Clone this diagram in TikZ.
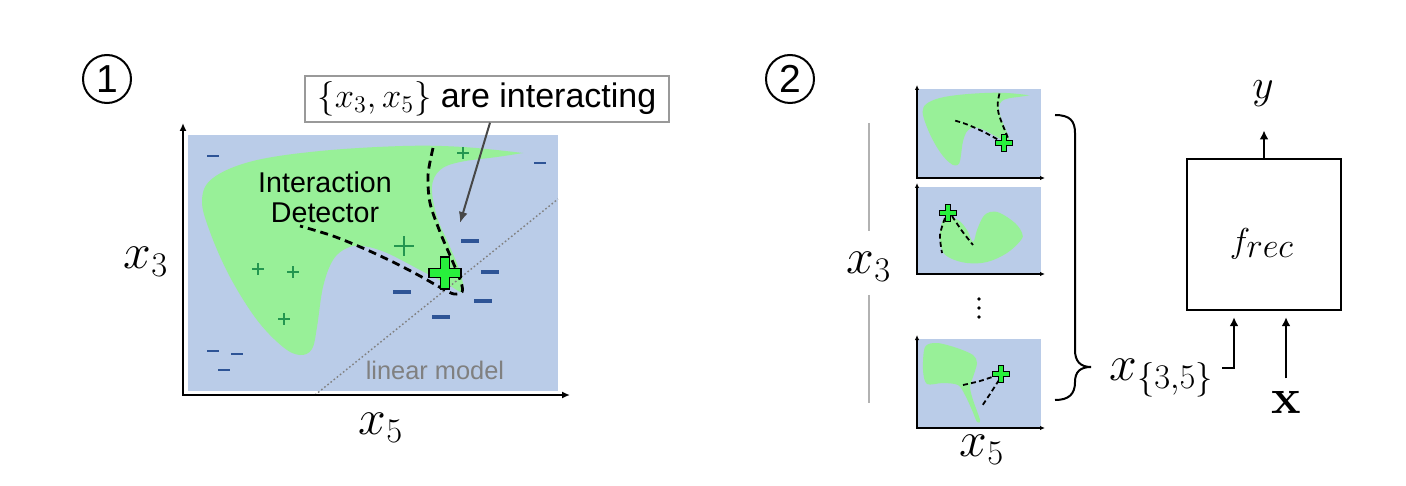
\documentclass[tikz,border=0pt]{standalone}
\usepackage[no-math]{fontspec}
\setmainfont{Liberation Sans}
\usetikzlibrary{arrows.meta, positioning}

\definecolor{bgblue}{RGB}{186,204,232}
\definecolor{blobgreen}{RGB}{152,240,152}
\definecolor{crossgreen}{RGB}{40,240,60}
\definecolor{plusgreen}{RGB}{36,150,80}
\definecolor{minusblue}{RGB}{46,84,150}

% shape of the positive region and the detected cut, in pixel coordinates
\newcommand{\mainblob}{plot[smooth, tension=0.6] coordinates {(523,153) (463,147) (403,146) (320,151) (253,161) (213,178) (202,200) (210,232) (230,277) (257,320) (283,347) (300,355) (312,349) (317,327) (323,287) (333,260) (347,248) (363,246) (387,253) (420,270) (447,284) (463,292) (460,272) (450,247) (437,217) (432,187) (440,170) (460,162) (497,157) (523,153)}}
\newcommand{\maincut}{plot[smooth] coordinates {(433,148) (428,175) (430,203) (440,232) (452,260) (461,282) (462,292) (454,294) (443,289) (420,276) (395,263) (365,249) (333,236) (300,226)}}
\newcommand{\greencross}[4]{%
  \filldraw[cross, shift={(#1,#2)}] (-#3,-#4) -- (-#4,-#4) -- (-#4,-#3) -- (#4,-#3) -- (#4,-#4) -- (#3,-#4) -- (#3,#4) -- (#4,#4) -- (#4,#3) -- (-#4,#3) -- (-#4,#4) -- (-#3,#4) -- cycle;}

\begin{document}
\begin{tikzpicture}[x=0.5pt, y=-0.5pt,
    axis/.style = {line width=1pt, line join=miter, {Latex[length=4pt, width=3.5pt]}-{Latex[length=4pt, width=3.5pt]}},
    miniaxis/.style = {line width=0.6pt, line join=miter, {Latex[length=2.5pt, width=2.2pt]}-{Latex[length=2.5pt, width=2.2pt]}},
    blob/.style = {fill=blobgreen},
    cut/.style = {line width=1.4pt, dash pattern=on 4pt off 2.5pt},
    minicut/.style = {line width=0.9pt, dash pattern=on 2.5pt off 1.6pt},
    cross/.style = {fill=crossgreen, draw=black, line width=0.8pt, line join=miter},
    smallplus/.style = {plusgreen, line width=0.6pt},
    midplus/.style = {plusgreen, line width=1.3pt},
    smallminus/.style = {minusblue, line width=0.6pt},
    bigminus/.style = {minusblue, line width=1.6pt},
    pointer/.style = {black!72, line width=1pt, -{Latex[length=5.5pt, width=4.5pt]}},
    flow/.style = {line width=1pt, -{Latex[length=4.5pt, width=4.5pt]}},
    mathlabel/.style = {font=\fontsize{24}{28}\selectfont, inner sep=1pt},
    rangeline/.style = {black!30, line width=1pt},
    stepnum/.style = {circle, draw, line width=1pt, minimum size=24pt, inner sep=0pt, font=\fontsize{19.5}{22}\selectfont}
  ]
  \useasboundingbox (0,0) rectangle (1406,486);

  % step 1: one detector on the full data
  \node[stepnum] (step1) at (107,79) {1};
  \fill[bgblue] (188,135) rectangle (558,391);
  \fill[blob] \mainblob;
  \draw[black!50, line width=0.7pt, dash pattern=on 0.8pt off 1.2pt] (315,395) -- (558,199);
  \draw[cut] \maincut;
  \foreach \x/\y in {463/153, 258/269, 293/272, 284/319}
    \draw[smallplus, shift={(\x,\y)}] (-6,0) -- (6,0) (0,-6) -- (0,6);
  \draw[midplus, shift={(404,246)}] (-10,0) -- (10,0) (0,-10) -- (0,10);
  \foreach \x/\y in {213/156, 540/163, 213/351, 237/354, 224/370}
    \draw[smallminus] (\x-6,\y) -- (\x+6,\y);
  \foreach \x/\y in {470/241, 490/272, 483/301, 402/292, 441/317}
    \draw[bigminus] (\x-9,\y) -- (\x+9,\y);
  \greencross{445}{273}{16}{4.5}
  \draw[axis] (183,123) -- (183,395) -- (570,395);

  \node[font=\fontsize{14.3}{15}\selectfont, align=center] (detector) at (325,197) {Interaction\\Detector};
  \node[font=\fontsize{12.7}{14}\selectfont, text=black!50] (linmodel) at (435,370) {linear model};
  \node[draw=black!40, line width=0.7pt, minimum width=182pt, minimum height=23pt, inner sep=2pt,
        font=\fontsize{17}{19}\selectfont] (claim) at (487,99) {$\{x_3, x_5\}$ are interacting};
  \coordinate (aim) at (460,223);
  \draw[pointer] ([xshift=1.5pt]claim.south) -- (aim);
  \node[mathlabel] (xthree) at (146,262) {$x_3$};
  \node[mathlabel] (xfive) at (381,428) {$x_5$};

  % step 2: detectors on many samples
  \node[stepnum] (step2) at (790,79) {2};
  \foreach \ytop/\ybot in {89/178, 187/274, 339/428}
    \fill[bgblue] (918,\ytop) rectangle (1041,\ybot);
  \begin{scope}[shift={(855.5,42.06)}, xscale=0.3324, yscale=0.3477]
    \fill[blob] \mainblob;
    \draw[minicut] \maincut;
  \end{scope}
  \greencross{1004}{143}{8.5}{2.5}
  \fill[blob] plot[smooth cycle, tension=0.6] coordinates {(945,217) (940,233) (942,250) (950,258) (967,263) (987,262) (1007,253) (1021,240) (1022,233) (1015,223) (1000,213) (990,212) (983,217) (977,230) (973,242) (967,230) (958,220)};
  \draw[minicut] plot[smooth] coordinates {(945,218) (940,235) (942,253)};
  \draw[minicut] plot[smooth] coordinates {(952,216) (962,231) (973,245)};
  \greencross{948}{213}{8.5}{2.5}
  \fill[blob] plot[smooth cycle, tension=0.5] coordinates {(925,347) (937,343) (957,348) (973,355) (977,363) (973,377) (970,387) (973,400) (980,420) (977,422) (972,410) (965,395) (958,385) (943,383) (927,384) (923,370)};
  \draw[minicut] plot[smooth] coordinates {(963,385) (980,381) (995,376)};
  \draw[minicut] plot[smooth] coordinates {(999,380) (990,394) (982,406)};
  \greencross{1001}{374}{8.5}{2.5}
  \foreach \ytop/\ybot in {89/178, 187/274, 339/428}
    \draw[miniaxis] (917,\ytop-4) -- (917,\ybot) -- (1045,\ybot);
  \foreach \y in {299, 308, 317}
    \fill (979,\y) circle (1.8);

  \node[mathlabel] (xthreeb) at (869,267) {$x_3$};
  \node[mathlabel] (xfiveb) at (982,450) {$x_5$};
  \coordinate (rtop) at (869,123);
  \coordinate (rbot) at (869,403);
  \draw[rangeline, shorten >=9.5pt] (rtop) -- (xthreeb);
  \draw[rangeline, shorten <=5.5pt] (xthreeb) -- (rbot);
  \draw[line width=1pt] (1055,115) .. controls (1070,115) and (1075,121) .. (1075,133) -- (1075,350)
    .. controls (1075,361) and (1080,367) .. (1091,367) .. controls (1080,367) and (1075,372) .. (1075,382)
    .. controls (1075,394) and (1069,400) .. (1055,400);

  % recovery model
  \node[draw, line width=1.2pt, minimum width=77pt, minimum height=75.5pt] (frec) at (1264,234.5) {};
  \node[font=\fontsize{16}{18}\selectfont, inner sep=0pt, anchor=base] (freclabel) at (1262,252) {$f_{\textstyle rec}$};
  \node[font=\fontsize{20}{24}\selectfont, inner sep=1pt, anchor=base] (yout) at (1263,99) {$y$};
  \node[mathlabel, anchor=base west] (xpair) at (1107,380) {$x_{\{3,5\}}$};
  \node[mathlabel, anchor=base] (xvec) at (1286,413) {$\mathbf{x}$};
  \draw[flow, shorten >=10.5pt] (frec.north) -- (frec.north |- yout.south);
  \draw[flow, shorten >=3pt] ([xshift=3pt, yshift=6pt]xpair.base east) -| ([xshift=-15pt]frec.south);
  \draw[flow, shorten <=5pt, shorten >=3pt] (xvec) -- (xvec |- frec.south);
\end{tikzpicture}
\end{document}
